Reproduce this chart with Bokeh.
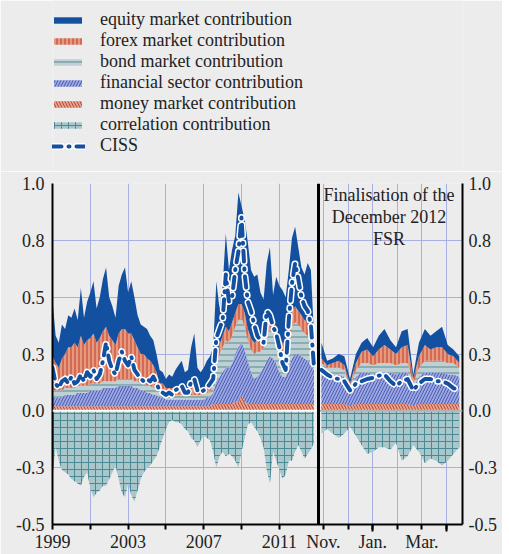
import numpy as np
from bokeh.plotting import figure
from bokeh.models import (ColumnDataSource, Legend, LegendItem, FixedTicker, Span, BoxAnnotation,
                          Label, Range1d, LinearAxis)
from bokeh.layouts import column
from bokeh.transform import stack
from bokeh.embed import file_html
from bokeh.resources import INLINE

# ---------------- data: long history (bi-monthly, 1999 - Nov 2012) ----------------
hist_t = 1999 + np.arange(84) / 6.0

hist_money = [0.02, 0.02, 0.02, 0.02, 0.02, 0.02, 0.02, 0.02, 0.02, 0.02, 0.02, 0.02,
              0.02, 0.02, 0.02, 0.02, 0.02, 0.02, 0.02, 0.02, 0.02, 0.02, 0.02, 0.02,
              0.02, 0.02, 0.02, 0.02, 0.02, 0.02, 0.02, 0.02, 0.02, 0.02, 0.02, 0.02,
              0.02, 0.02, 0.02, 0.02, 0.02, 0.02, 0.02, 0.02, 0.02, 0.02, 0.02, 0.02,
              0.02, 0.02, 0.02, 0.03, 0.03, 0.03, 0.03, 0.03, 0.03, 0.03, 0.04, 0.04,
              0.07, 0.04, 0.03, 0.03, 0.03, 0.03, 0.03, 0.03, 0.03, 0.03, 0.03, 0.03,
              0.03, 0.03, 0.03, 0.03, 0.03, 0.03, 0.03, 0.03, 0.03, 0.03, 0.03, 0.03]
hist_financial = [0.04, 0.04, 0.04, 0.04, 0.05, 0.05, 0.05, 0.05, 0.06, 0.06, 0.06, 0.06,
                  0.07, 0.07, 0.07, 0.07, 0.08, 0.08, 0.08, 0.08, 0.08, 0.09, 0.09, 0.09,
                  0.09, 0.09, 0.08, 0.08, 0.07, 0.07, 0.06, 0.06, 0.05, 0.05, 0.04, 0.04,
                  0.03, 0.03, 0.03, 0.03, 0.03, 0.03, 0.03, 0.03, 0.03, 0.03, 0.03, 0.03,
                  0.03, 0.04, 0.04, 0.05, 0.10, 0.12, 0.14, 0.16, 0.16, 0.18, 0.21, 0.24,
                  0.23, 0.23, 0.19, 0.14, 0.11, 0.12, 0.14, 0.16, 0.19, 0.21, 0.20, 0.18,
                  0.14, 0.12, 0.12, 0.16, 0.20, 0.22, 0.22, 0.21, 0.20, 0.19, 0.17, 0.15]
hist_bond = [0.03, 0.03, 0.03, 0.03, 0.03, 0.03, 0.03, 0.03, 0.03, 0.03, 0.03, 0.03,
             0.03, 0.03, 0.03, 0.03, 0.03, 0.03, 0.03, 0.03, 0.03, 0.03, 0.03, 0.03,
             0.03, 0.03, 0.03, 0.03, 0.03, 0.03, 0.03, 0.03, 0.03, 0.03, 0.02, 0.02,
             0.02, 0.02, 0.02, 0.02, 0.02, 0.02, 0.02, 0.02, 0.02, 0.02, 0.02, 0.02,
             0.02, 0.02, 0.02, 0.04, 0.08, 0.10, 0.11, 0.12, 0.11, 0.12, 0.12, 0.12,
             0.11, 0.10, 0.09, 0.10, 0.11, 0.11, 0.09, 0.09, 0.11, 0.12, 0.11, 0.10,
             0.09, 0.10, 0.10, 0.12, 0.14, 0.14, 0.13, 0.12, 0.11, 0.11, 0.10, 0.08]
hist_forex = [0.15, 0.12, 0.10, 0.14, 0.15, 0.18, 0.18, 0.20, 0.17, 0.22, 0.18, 0.20,
              0.20, 0.22, 0.18, 0.20, 0.22, 0.24, 0.20, 0.18, 0.16, 0.20, 0.22, 0.22,
              0.20, 0.20, 0.18, 0.15, 0.13, 0.13, 0.12, 0.11, 0.10, 0.07, 0.04, 0.04,
              0.03, 0.03, 0.03, 0.03, 0.03, 0.04, 0.03, 0.03, 0.04, 0.05, 0.03, 0.03,
              0.03, 0.04, 0.04, 0.04, 0.05, 0.04, 0.05, 0.06, 0.05, 0.06, 0.06, 0.07,
              0.06, 0.06, 0.05, 0.05, 0.05, 0.05, 0.05, 0.05, 0.06, 0.07, 0.06, 0.06,
              0.06, 0.05, 0.05, 0.06, 0.07, 0.07, 0.06, 0.06, 0.06, 0.06, 0.05, 0.04]
hist_equity = [0.25, 0.12, 0.11, 0.15, 0.11, 0.14, 0.13, 0.15, 0.12, 0.21, 0.12, 0.17,
               0.20, 0.23, 0.15, 0.18, 0.23, 0.26, 0.17, 0.15, 0.12, 0.21, 0.24, 0.27,
               0.18, 0.23, 0.19, 0.14, 0.13, 0.12, 0.13, 0.11, 0.11, 0.08, 0.06, 0.05,
               0.04, 0.06, 0.05, 0.08, 0.10, 0.11, 0.07, 0.08, 0.17, 0.22, 0.09, 0.07,
               0.09, 0.10, 0.12, 0.12, 0.31, 0.16, 0.22, 0.41, 0.27, 0.32, 0.34, 0.49,
               0.43, 0.41, 0.38, 0.30, 0.29, 0.29, 0.21, 0.16, 0.26, 0.29, 0.11, 0.22,
               0.23, 0.23, 0.20, 0.25, 0.32, 0.35, 0.28, 0.21, 0.20, 0.26, 0.27, 0.03]
hist_correlation = [-0.29, -0.16, -0.22, -0.26, -0.27, -0.28, -0.30, -0.31, -0.32, -0.33, -0.29, -0.27,
                    -0.34, -0.38, -0.36, -0.35, -0.33, -0.33, -0.30, -0.27, -0.24, -0.30, -0.36, -0.38,
                    -0.32, -0.37, -0.40, -0.35, -0.30, -0.27, -0.25, -0.24, -0.22, -0.20, -0.16, -0.12,
                    -0.08, -0.05, -0.04, -0.05, -0.05, -0.06, -0.08, -0.09, -0.12, -0.13, -0.16, -0.13,
                    -0.11, -0.12, -0.13, -0.18, -0.25, -0.20, -0.18, -0.20, -0.19, -0.20, -0.22, -0.25,
                    -0.18, -0.12, -0.06, -0.05, -0.07, -0.09, -0.12, -0.16, -0.26, -0.32, -0.18, -0.22,
                    -0.26, -0.30, -0.28, -0.22, -0.22, -0.18, -0.15, -0.18, -0.21, -0.19, -0.17, -0.14]
hist_ciss = [0.19, 0.12, 0.10, 0.13, 0.14, 0.12, 0.15, 0.12, 0.13, 0.16, 0.13, 0.17,
             0.15, 0.18, 0.14, 0.16, 0.22, 0.30, 0.22, 0.18, 0.16, 0.22, 0.26, 0.22,
             0.20, 0.24, 0.18, 0.16, 0.14, 0.13, 0.14, 0.13, 0.15, 0.12, 0.09, 0.08,
             0.07, 0.08, 0.07, 0.09, 0.10, 0.11, 0.08, 0.08, 0.13, 0.14, 0.09, 0.08,
             0.09, 0.10, 0.12, 0.14, 0.32, 0.36, 0.40, 0.60, 0.48, 0.50, 0.62, 0.70,
             0.85, 0.60, 0.48, 0.44, 0.38, 0.33, 0.31, 0.30, 0.44, 0.42, 0.37, 0.34,
             0.28, 0.21, 0.18, 0.40, 0.56, 0.65, 0.58, 0.50, 0.46, 0.44, 0.38, 0.19]

# ---------------- data: since the December 2012 FSR (weekly, months from 1 Nov 2012) ----------------
rec_t = [-0.08, 0.15, 0.38, 0.62, 0.85, 1.08, 1.32, 1.55, 1.78, 2.02, 2.25, 2.48, 2.72,
         2.95, 3.18, 3.42, 3.65, 3.88, 4.12, 4.35, 4.58, 4.82, 5.05, 5.28, 5.52]
rec_money = [0.03, 0.03, 0.03, 0.03, 0.03, 0.02, 0.03, 0.03, 0.03, 0.03, 0.03, 0.03, 0.03,
             0.03, 0.03, 0.03, 0.02, 0.03, 0.03, 0.03, 0.03, 0.03, 0.03, 0.03, 0.03]
rec_financial = [0.14, 0.13, 0.13, 0.13, 0.12, 0.07, 0.12, 0.14, 0.14, 0.13, 0.14, 0.14, 0.14,
                 0.13, 0.14, 0.14, 0.08, 0.12, 0.14, 0.14, 0.14, 0.14, 0.13, 0.13, 0.12]
rec_bond = [0.04, 0.03, 0.03, 0.03, 0.03, 0.02, 0.03, 0.04, 0.04, 0.04, 0.04, 0.04, 0.04,
            0.04, 0.04, 0.04, 0.02, 0.04, 0.05, 0.05, 0.05, 0.05, 0.05, 0.05, 0.04]
rec_forex = [0.02, 0.01, 0.02, 0.03, 0.02, 0.01, 0.03, 0.05, 0.06, 0.04, 0.06, 0.08, 0.06,
             0.05, 0.07, 0.08, 0.02, 0.05, 0.07, 0.05, 0.06, 0.06, 0.04, 0.03, 0.02]
rec_equity = [0.07, 0.02, 0.02, 0.03, 0.04, 0.02, 0.04, 0.04, 0.05, 0.04, 0.06, 0.07, 0.04,
              0.03, 0.07, 0.07, 0.02, 0.06, 0.07, 0.06, 0.07, 0.09, 0.04, 0.03, 0.03]
rec_correlation = [-0.10, -0.08, -0.10, -0.12, -0.10, -0.07, -0.11, -0.15, -0.19, -0.18, -0.16, -0.16, -0.17,
                   -0.14, -0.22, -0.20, -0.15, -0.18, -0.23, -0.21, -0.22, -0.24, -0.22, -0.19, -0.16]
rec_ciss = [0.18, 0.16, 0.145, 0.14, 0.13, 0.09, 0.12, 0.13, 0.14, 0.145, 0.155, 0.16, 0.13,
            0.11, 0.13, 0.14, 0.09, 0.12, 0.14, 0.14, 0.13, 0.13, 0.12, 0.10, 0.09]

y_ticks = [-0.5, -0.25, 0.0, 0.25, 0.5, 0.75, 1.0]
y_tick_labels = ["-0.5", "-0.3", "0.0", "0.3", "0.5", "0.8", "1.0"]
year_ticks = [1999, 2001, 2003, 2005, 2007, 2009, 2011]
year_labels = ["1999", "", "2003", "", "2007", "", "2011"]
month_ticks = [0, 1, 2, 3, 4, 5]
month_labels = ["Nov.", "", "Jan.", "", "Mar.", ""]
year_start_months = [2, 5]

series_labels = ["equity market contribution", "forex market contribution",
                 "bond market contribution", "financial sector contribution",
                 "money market contribution", "correlation contribution", "CISS"]

# ---------------- geometry of the two panels (one shared frame) ----------------
LEFT_PX, RIGHT_PX = 266, 144           # widths of the two panels inside the frame
HIST_START, HIST_END = 1999.0, 2013.07  # long-history panel, in years
REC_START, REC_END = -0.2, 5.65         # recent panel, in months from Nov 2012
px_year = LEFT_PX / (HIST_END - HIST_START)
px_month = RIGHT_PX / (REC_END - REC_START)
x_hist = Range1d(HIST_START, HIST_START + (LEFT_PX + RIGHT_PX) / px_year)
x_rec = Range1d(REC_START - LEFT_PX / px_month, REC_END)


def month_pos(m):
    # position of a recent-panel month on the shared bottom axis
    return HIST_END + (m - REC_START) * px_month / px_year


# ---------------- styling ----------------
BG = "#ececec"
GRID = "#a7afe3"
FONT = "Liberation Serif"
TXT = "#222222"
EQ = "#1450a0"
CISS_C = "#1450a0"
stack_names = ["money", "financial", "bond", "forex", "equity"]
stack_style = {
    "money":     dict(fill_color="#e3a28e", hatch_pattern="\\", hatch_color="#c04a35", hatch_scale=6, hatch_weight=1),
    "financial": dict(fill_color="#9ba6de", hatch_pattern="/", hatch_color="#4b5db8", hatch_scale=6, hatch_weight=1),
    "bond":      dict(fill_color="#bed0d3", hatch_pattern="-", hatch_color="#568b91", hatch_scale=6, hatch_weight=1),
    "forex":     dict(fill_color="#e59a7e", hatch_pattern="|", hatch_color="#c0392b", hatch_scale=4, hatch_weight=1),
    "equity":    dict(fill_color=EQ),
}
CORR_STYLE = dict(fill_color="#a9c6cb", hatch_pattern="+", hatch_color="#4a8a95", hatch_scale=7, hatch_weight=1)
CISS_W = dict(line_color="white", line_width=7, line_dash="11 7 1 7", line_cap="round", line_join="round")
CISS_B = dict(line_color=CISS_C, line_width=4, line_dash="11 7 1 7", line_cap="round", line_join="round")


def draw(p, src, **kw):
    r = {}
    for i, name in enumerate(stack_names):
        r[name] = p.varea(x="t", y1=stack(*stack_names[:i]), y2=stack(*stack_names[:i + 1]),
                          source=src, **stack_style[name], **kw)
    r["corr"] = p.varea(x="t", y1=0, y2="correlation", source=src, **CORR_STYLE, **kw)
    r["ciss_w"] = p.line(x="t", y="ciss", source=src, **CISS_W, **kw)
    r["ciss"] = p.line(x="t", y="ciss", source=src, **CISS_B, **kw)
    return r


src_hist = ColumnDataSource(dict(t=hist_t, money=hist_money, financial=hist_financial, bond=hist_bond,
                                 forex=hist_forex, equity=hist_equity, ciss=hist_ciss,
                                 correlation=hist_correlation))
src_rec = ColumnDataSource(dict(t=rec_t, money=rec_money, financial=rec_financial, bond=rec_bond,
                                forex=rec_forex, equity=rec_equity, ciss=rec_ciss,
                                correlation=rec_correlation))

# ---------------- legend strip (its renderers lie outside its own view) ----------------
W = 502
LEG_H = 171
leg = figure(width=W, height=LEG_H, x_range=Range1d(0, 1), y_range=Range1d(0, 1),
             output_backend="svg", toolbar_location=None, x_axis_location=None, y_axis_location=None,
             min_border=0)
leg.grid.visible = False
leg.background_fill_color = BG
leg.border_fill_color = BG
leg.outline_line_color = None
lg = draw(leg, src_hist)
legend = Legend(items=[
    LegendItem(label=series_labels[0], renderers=[lg["equity"]]),
    LegendItem(label=series_labels[1], renderers=[lg["forex"]]),
    LegendItem(label=series_labels[2], renderers=[lg["bond"]]),
    LegendItem(label=series_labels[3], renderers=[lg["financial"]]),
    LegendItem(label=series_labels[4], renderers=[lg["money"]]),
    LegendItem(label=series_labels[5], renderers=[lg["corr"]]),
    LegendItem(label=series_labels[6], renderers=[lg["ciss_w"], lg["ciss"]]),
], location=(-2, 15), orientation="vertical", margin=0, padding=0, spacing=0,
    glyph_width=35, glyph_height=8, label_standoff=15, label_height=8,
    label_text_font=FONT, label_text_font_size="18px", label_text_color=TXT,
    background_fill_alpha=0, border_line_alpha=0)
leg.add_layout(legend)

# ---------------- main chart: both panels in one frame ----------------
p = figure(width=W, height=554 - LEG_H, x_range=x_hist, y_range=Range1d(-0.5, 1.0),
           output_backend="svg", toolbar_location=None,
           min_border_left=52, min_border_right=40, min_border_top=12, min_border_bottom=0)
p.extra_x_ranges = {"recent": x_rec}
p.background_fill_color = BG
p.border_fill_color = BG
p.outline_line_color = None

draw(p, src_hist)
draw(p, src_rec, x_range_name="recent")

p.add_layout(Span(location=0, dimension="width", line_color="white", line_width=2))
p.add_layout(BoxAnnotation(left=REC_START, top=0, bottom=0, x_range_name="recent",
                           fill_alpha=0, line_color="black", line_width=2))
p.add_layout(Span(location=HIST_END, dimension="height", line_color="black", line_width=3))

x_tick_pos = year_ticks + [month_pos(m) for m in month_ticks]
x_tick_lab = year_labels + month_labels
xticker = FixedTicker(ticks=x_tick_pos, minor_ticks=[month_pos(m) for m in year_start_months])
yticker = FixedTicker(ticks=y_ticks)
y_over = {t: l for t, l in zip(y_ticks, y_tick_labels)}

p.xaxis.ticker = xticker
p.xaxis.major_label_overrides = {t: l for t, l in zip(x_tick_pos, x_tick_lab)}
p.xaxis.major_tick_out = 5
p.xaxis.major_tick_in = 0
p.xaxis.minor_tick_out = 7
p.xaxis.minor_tick_in = 0
p.xaxis.major_label_standoff = 0
p.yaxis.ticker = yticker
p.yaxis.major_label_overrides = y_over
p.yaxis.major_tick_out = 0
p.yaxis.major_tick_in = 0
p.yaxis.major_label_standoff = 8
raxis = LinearAxis(ticker=yticker, major_label_overrides=y_over, major_tick_out=0, major_tick_in=0,
                   major_label_standoff=6)
p.add_layout(raxis, "right")
for ax in p.axis:
    ax.axis_line_color = "black"
    ax.axis_line_width = 2
    ax.major_label_text_font = FONT
    ax.major_label_text_font_size = "18px"
    ax.major_label_text_color = TXT
    ax.major_tick_line_color = "black"
    ax.major_tick_line_width = 2
    ax.minor_tick_line_color = "black"
    ax.minor_tick_line_width = 2
p.xgrid.ticker = FixedTicker(ticks=x_tick_pos)
p.ygrid.ticker = yticker
p.grid.grid_line_color = GRID
p.grid.grid_line_width = 1

p.add_layout(Label(x=2.66, y=1.0, y_offset=-1, x_range_name="recent",
                   text="Finalisation of the\nDecember 2012\nFSR",
                   text_align="center", text_baseline="top", text_font=FONT,
                   text_font_size="18px", text_color=TXT, text_line_height=1.1))

layout = column(leg, p, spacing=0)
html = file_html(layout, INLINE)
html = html.replace("<body>", '<body style="background:#ececec;">', 1)
open("out.html", "w").write(html)
